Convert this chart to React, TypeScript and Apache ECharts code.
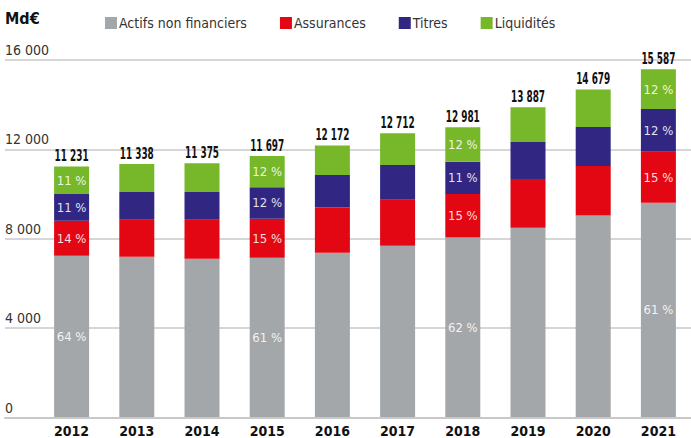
import React, { useEffect, useRef } from "react";
import * as echarts from "echarts";

const years = ["2012", "2013", "2014", "2015", "2016", "2017", "2018", "2019", "2020", "2021"];
const totals = [11231, 11338, 11375, 11697, 12172, 12712, 12981, 13887, 14679, 15587];
const actifs = [7226, 7181, 7092, 7135, 7360, 7673, 8040, 8479, 9029, 9597];
const assurances = [1566, 1656, 1745, 1755, 2027, 2059, 1960, 2192, 2224, 2296];
const titres = [1208, 1252, 1252, 1404, 1463, 1566, 1440, 1656, 1745, 1910];
const liquidites = [1231, 1249, 1286, 1403, 1322, 1414, 1541, 1560, 1681, 1784];
const actifsPct = [64, null, null, 61, null, null, 62, null, null, 61];
const assurancesPct = [14, null, null, 15, null, null, 15, null, null, 15];
const titresPct = [11, null, null, 12, null, null, 11, null, null, 12];
const liquiditesPct = [11, null, null, 12, null, null, 12, null, null, 12];
const yTicks = [0, 4000, 8000, 12000, 16000];

const FONT = "'DejaVu Sans Condensed', 'DejaVu Sans', sans-serif";

function fmt(n: number): string {
  return String(n).replace(/\B(?=(\d{3})+(?!\d))/g, " ");
}

export default function App() {
  const ref = useRef<HTMLDivElement>(null);
  useEffect(() => {
    if (!ref.current) return;
    const chart = echarts.init(ref.current, undefined, { renderer: "svg" });
    const mk = (vals: number[], pcts: (number | null)[]) =>
      vals.map((v, i) => ({
        value: v,
        label: { show: pcts[i] != null, formatter: `${pcts[i]} %` },
      }));
    const pctLabel = {
      position: "inside" as const,
      color: "rgba(255,255,255,0.88)",
      fontFamily: FONT,
      fontSize: 13,
    };
    const series: any[] = [
      { name: "Actifs non financiers", data: mk(actifs, actifsPct), color: "#a4a7aa" },
      { name: "Assurances", data: mk(assurances, assurancesPct), color: "#e30613" },
      { name: "Titres", data: mk(titres, titresPct), color: "#312783" },
      { name: "Liquidités", data: mk(liquidites, liquiditesPct), color: "#76b82a" },
    ].map((s) => ({
      type: "bar",
      name: s.name,
      stack: "total",
      xAxisIndex: 1,
      yAxisIndex: 1,
      barWidth: 35,
      data: s.data,
      itemStyle: { color: s.color },
      label: pctLabel,
      emphasis: { disabled: true },
    }));
    series.push({
      type: "custom",
      name: "Total",
      xAxisIndex: 1,
      yAxisIndex: 1,
      data: totals.map((t, i) => [i, t]),
      silent: true,
      renderItem: (params: any, api: any) => {
        const pt = api.coord([api.value(0), api.value(1)]);
        return {
          type: "text",
          x: pt[0],
          y: pt[1] - 3,
          scaleX: 0.66,
          style: {
            text: fmt(api.value(1)),
            align: "center",
            verticalAlign: "bottom",
            fontFamily: FONT,
            fontWeight: "bold",
            fontSize: 15,
            fill: "#111",
          },
        };
      },
    });
    chart.setOption({
      animation: false,
      textStyle: { fontFamily: FONT },
      legend: {
        data: ["Actifs non financiers", "Assurances", "Titres", "Liquidités"],
        left: 100,
        top: 11,
        icon: "rect",
        itemWidth: 12,
        itemHeight: 12,
        itemGap: 33,
        textStyle: { fontFamily: FONT, fontSize: 14, color: "#333", padding: [0, 0, 0, -3] },
        selectedMode: false,
      },
      graphic: [
        {
          type: "text",
          left: 5,
          top: 10,
          style: { text: "Md€", fontFamily: FONT, fontWeight: "bold", fontSize: 16, fill: "#111" },
        },
      ],
      grid: [
        { left: 5, right: 0, top: 60, bottom: 20.5 },
        { left: 39, right: -14, top: 60, bottom: 20.5 },
      ],
      xAxis: [
        {
          type: "category",
          gridIndex: 0,
          data: years,
          axisLine: { show: true, lineStyle: { color: "#c8c8c8", width: 2 } },
          axisTick: { show: false },
          axisLabel: { show: false },
        },
        {
          type: "category",
          gridIndex: 1,
          data: years,
          axisLine: { show: false },
          axisTick: { show: false },
          axisLabel: {
            margin: 7,
            color: "#111",
            fontFamily: FONT,
            fontWeight: "bold",
            fontSize: 14,
          },
        },
      ],
      yAxis: [
        {
          type: "value",
          gridIndex: 0,
          min: yTicks[0],
          max: yTicks[yTicks.length - 1],
          interval: yTicks[1] - yTicks[0],
          axisLine: { show: false },
          axisTick: { show: false },
          splitLine: { lineStyle: { color: "#c8c8c8", width: 1.5 } },
          axisLabel: {
            inside: true,
            margin: 0,
            verticalAlign: "bottom",
            padding: [0, 0, 3, 0],
            color: "#333",
            fontFamily: FONT,
            fontSize: 14,
            formatter: (v: number) => fmt(v),
          },
        },
        {
          type: "value",
          gridIndex: 1,
          min: yTicks[0],
          max: yTicks[yTicks.length - 1],
          interval: yTicks[1] - yTicks[0],
          show: false,
          splitLine: { show: false },
        },
      ],
      series,
    });
    return () => chart.dispose();
  }, []);
  return <div ref={ref} style={{ width: 691, height: 438, position: "absolute", left: 0, top: 0 }} />;
}
